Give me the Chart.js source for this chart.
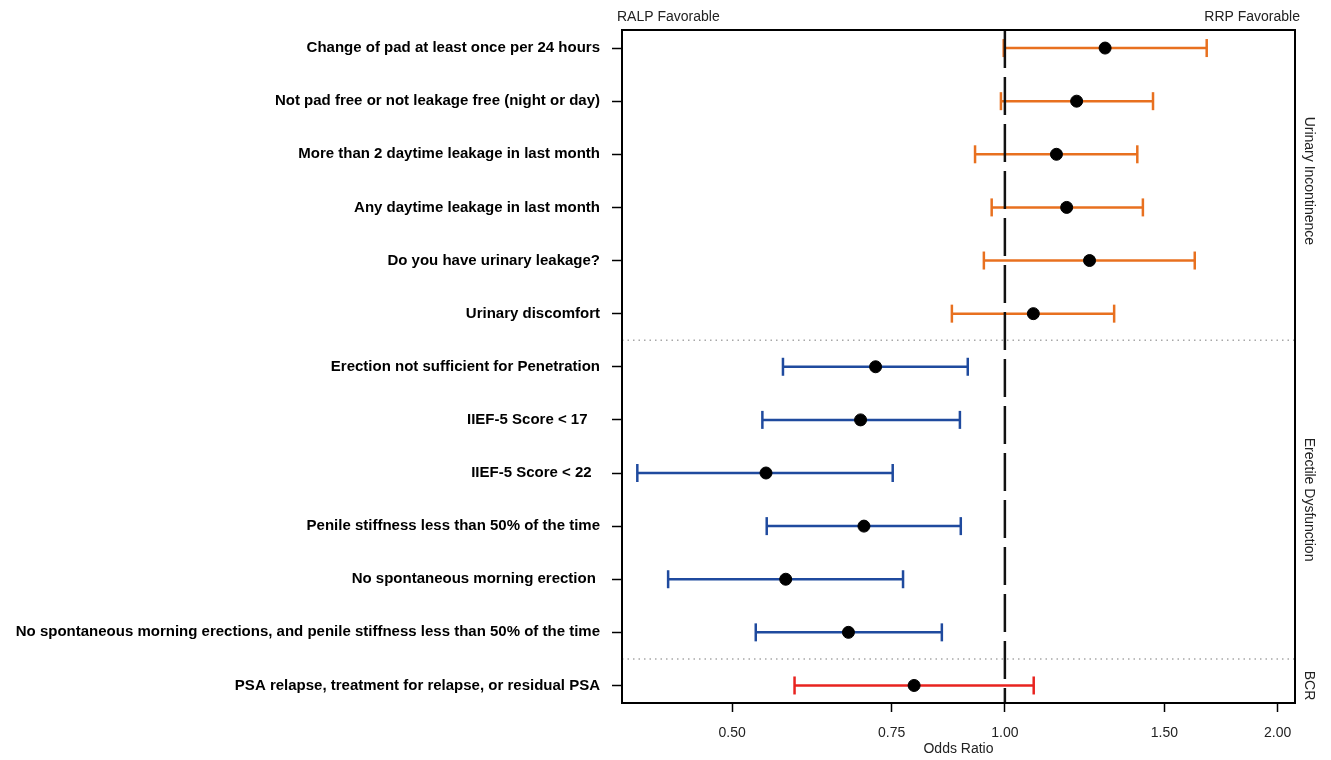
<!DOCTYPE html>
<html>
<head>
<meta charset="utf-8">
<script src="https://cdn.jsdelivr.net/npm/chart.js@4/dist/chart.umd.min.js"></script>
<style>
  html, body { margin: 0; padding: 0; background: #fff; }
  #wrap { width: 1331px; height: 760px; }
</style>
</head>
<body>
<div id="wrap"><canvas id="forest"></canvas></div>
<script>
// outcomes, top to bottom
const rowLabels = [
  "Change of pad at least once per 24 hours",
  "Not pad free or not leakage free (night or day)",
  "More than 2 daytime leakage in last month",
  "Any daytime leakage in last month",
  "Do you have urinary leakage?",
  "Urinary discomfort",
  "Erection not sufficient for Penetration",
  "IIEF-5 Score < 17   ",
  "IIEF-5 Score < 22  ",
  "Penile stiffness less than 50% of the time",
  "No spontaneous morning erection ",
  "No spontaneous morning erections, and penile stiffness less than 50% of the time",
  "PSA relapse, treatment for relapse, or residual PSA"
]
const oddsRatio = [1.29, 1.20, 1.14, 1.17, 1.24, 1.075, 0.72, 0.693, 0.545, 0.699, 0.573, 0.672, 0.794]
const ciLower   = [0.997, 0.99, 0.927, 0.967, 0.948, 0.874, 0.569, 0.540, 0.393, 0.546, 0.425, 0.531, 0.586]
const ciUpper   = [1.67, 1.457, 1.40, 1.42, 1.62, 1.32, 0.91, 0.892, 0.752, 0.894, 0.772, 0.852, 1.076]
const rowGroup  = [0, 0, 0, 0, 0, 0, 1, 1, 1, 1, 1, 1, 2]

const groupNames  = ["Urinary Incontinence", "Erectile Dysfunction", "BCR"]
const groupColors = ["#e8701f", "#1f4a9e", "#e8231f"]
const groupBreaks = [6.5, 12.5]

const xTicks = [0.5, 0.75, 1, 1.5, 2]
const X_MIN = 0.378, X_MAX = 2.09
const Y_MIN = 0.66, Y_MAX = 13.33

const FONT = "'Liberation Sans', Arial, sans-serif"

const datasets = []

// confidence intervals, one small line per row with capped ends
rowLabels.forEach((_, i) => {
  const col = groupColors[rowGroup[i]]
  datasets.push({
    data: [{x: ciLower[i], y: i + 1}, {x: ciUpper[i], y: i + 1}],
    showLine: true,
    borderColor: col,
    borderWidth: 2.5,
    pointStyle: "line",
    rotation: 90,
    pointRadius: 9,
    pointBorderWidth: 2.5,
    pointBorderColor: col,
    order: 2
  })
})

// group separators
groupBreaks.forEach(b => {
  datasets.push({
    data: [{x: X_MIN, y: b}, {x: X_MAX, y: b}],
    showLine: true,
    borderColor: "#a8a8a8",
    borderWidth: 1.5,
    borderDash: [1.5, 4],
    pointRadius: 0,
    order: 3
  })
})

// no-effect line
datasets.push({
  data: [{x: 1, y: Y_MIN}, {x: 1, y: Y_MAX}],
  showLine: true,
  borderColor: "#111",
  borderWidth: 2.5,
  borderDash: [38, 9],
  pointRadius: 0,
  order: 1
})

// point estimates
datasets.push({
  data: oddsRatio.map((v, i) => ({x: v, y: i + 1})),
  backgroundColor: "#000",
  borderColor: "#000",
  pointRadius: 6,
  order: 0
})

const framePlugin = {
  id: "frame",
  afterDraw(chart){
    const {ctx, chartArea: a, scales} = chart
    ctx.save()
    ctx.strokeStyle = "#000"
    ctx.lineWidth = 2
    ctx.strokeRect(a.left, a.top, a.right - a.left, a.bottom - a.top)

    ctx.fillStyle = "#222"
    ctx.font = "14px " + FONT
    ctx.textBaseline = "middle"
    ctx.textAlign = "left"
    ctx.fillText("RALP Favorable", a.left - 5, 17)
    ctx.textAlign = "right"
    ctx.fillText("RRP Favorable", a.right + 5, 17)

    // group names down the right side
    const centres = [3.5, 9.5, 13]
    ctx.textAlign = "center"
    groupNames.forEach((name, g) => {
      const y = scales.y.getPixelForValue(centres[g])
      ctx.save()
      ctx.translate(a.right + 14, y)
      ctx.rotate(Math.PI / 2)
      ctx.fillText(name, 0, 0)
      ctx.restore()
    })
    ctx.restore()
  }
}

new Chart(document.getElementById("forest"), {
  type: "scatter",
  data: { datasets },
  plugins: [framePlugin],
  options: {
    responsive: true,
    maintainAspectRatio: false,
    animation: false,
    layout: { padding: { top: 30, right: 36, left: 0, bottom: 0 } },
    plugins: { legend: { display: false }, tooltip: { enabled: false } },
    scales: {
      x: {
        type: "logarithmic",
        min: X_MIN,
        max: X_MAX,
        afterBuildTicks: axis => { axis.ticks = xTicks.map(v => ({value: v})) },
        afterFit: scale => { scale.height = 57 },
        ticks: {
          autoSkip: false,
          color: "#222",
          font: { family: FONT, size: 14 },
          padding: 13,
          maxRotation: 0,
          callback: v => Number(v).toFixed(2)
        },
        grid: { drawOnChartArea: false, tickLength: 9, color: "#000", tickWidth: 1.5 },
        border: { color: "#000", width: 2 },
        title: {
          display: true,
          text: "Odds Ratio",
          color: "#222",
          font: { family: FONT, size: 14 },
          padding: { top: 0, bottom: 2 }
        }
      },
      y: {
        type: "linear",
        reverse: true,
        min: Y_MIN,
        max: Y_MAX,
        afterBuildTicks: axis => { axis.ticks = rowLabels.map((_, i) => ({value: i + 1})) },
        afterFit: scale => { scale.width = 622 },
        ticks: {
          autoSkip: false,
          color: "#000",
          font: { family: FONT, size: 15, weight: "bold" },
          padding: 12,
          callback: v => rowLabels[v - 1]
        },
        grid: { drawOnChartArea: false, tickLength: 10, color: "#000", tickWidth: 1.5 },
        border: { color: "#000", width: 2 }
      }
    }
  }
})
</script>
</body>
</html>
